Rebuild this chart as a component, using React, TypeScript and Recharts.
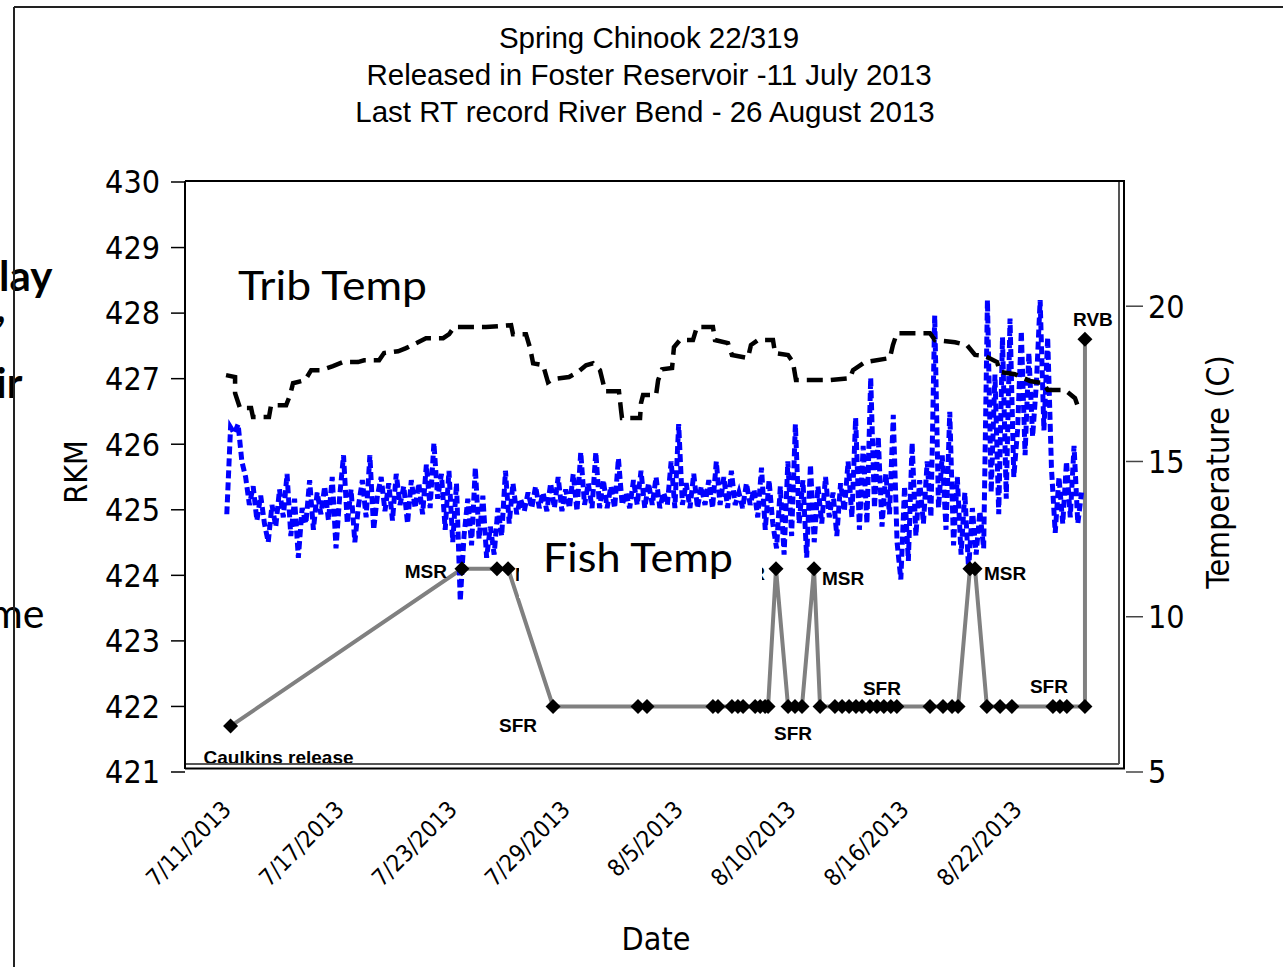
import React from 'react';
import { ComposedChart, Line, XAxis, YAxis } from 'recharts';

// ---------- layout constants ----------
const W = 1283;
const H = 967;
const PLOT_L = 185;
const PLOT_R = 1126;
const PLOT_T = 182;
const PLOT_B = 772;
const Y_AXIS_W = 60;
const X_AXIS_H = 60;

// ---------- data ----------
// x values are days since 11 July 2013
const X_MIN = -2.42;
const X_MAX = 47.56;
const dateTickDays = [0, 6, 12, 18, 24, 30, 36, 42];
const dateTickLabels = ['7/11/2013', '7/17/2013', '7/23/2013', '7/29/2013', '8/5/2013', '8/10/2013', '8/16/2013', '8/22/2013'];
const rkmTicks = [421, 422, 423, 424, 425, 426, 427, 428, 429, 430];
const tempTicks = [5, 10, 15, 20];

// Trib Temp (black dashed)
const tribDays = [
  -0.24, 0.24, 0.24, 0.5, 1.09, 1.19, 2.04, 2.15, 2.95, 3.16, 3.32, 3.96, 4.28, 4.81, 5.44, 5.97, 6.77, 7.09, 7.89,
  8.15, 8.9, 9.32, 9.96, 10.38, 11.29, 11.61, 11.87, 13.57, 14.9, 15.0, 15.69, 15.91, 16.07, 16.6, 16.86, 17.13,
  17.98, 18.45, 18.88, 19.25, 19.62, 19.78, 19.89, 20.63, 20.74, 20.79, 21.75, 21.8, 21.91, 22.6, 22.71, 22.92,
  23.45, 23.55, 23.87, 24.56, 24.77, 25.62, 25.73, 26.42, 26.63, 27.48, 27.64, 28.01, 28.81, 28.92, 29.61, 29.87,
  30.03, 31.84, 32.9, 33.06, 33.7, 35.02, 35.18, 35.39, 37.15, 37.41, 38.48, 39.11, 39.54, 40.07, 40.71, 40.87,
  41.66, 42.46, 43.15, 43.41, 44.32, 44.85, 45.11,
];
const tribTemps = [
  17.78, 17.72, 17.2, 16.72, 16.72, 16.43, 16.43, 16.81, 16.81, 17.14, 17.52, 17.62, 17.94, 17.94, 18.07, 18.2, 18.2,
  18.26, 18.26, 18.49, 18.55, 18.65, 18.84, 18.97, 18.97, 19.1, 19.33, 19.33, 19.39, 19.1, 19.1, 18.65, 18.16, 18.1,
  17.55, 17.65, 17.72, 17.88, 18.1, 18.16, 17.94, 17.55, 17.26, 17.26, 16.65, 16.4, 16.4, 16.88, 17.14, 17.14, 17.62,
  17.97, 18.01, 18.68, 18.91, 18.91, 19.33, 19.33, 18.91, 18.81, 18.43, 18.33, 18.75, 18.91, 18.91, 18.49, 18.43,
  18.2, 17.62, 17.62, 17.68, 17.94, 18.2, 18.33, 18.75, 19.13, 19.13, 18.91, 18.84, 18.75, 18.43, 18.4, 18.2, 17.88,
  17.81, 17.59, 17.52, 17.3, 17.3, 17.04, 16.59,
];

// Fish Temp (blue dashed), readings every 0.2 day starting at day -0.2
const FISH_START_DAY = -0.2;
const FISH_STEP_DAYS = 0.2;
const fishTemps = [
  13.3,
  16.1, 15.9, 16.2, 15.0, 14.5, 13.6, 14.2, 13.1, 13.9, 13.0,
  12.4, 13.6, 12.9, 14.1, 13.2, 14.6, 12.6, 13.8, 11.9, 13.5,
  13.0, 14.4, 12.8, 14.0, 13.3, 14.2, 13.1, 14.5, 12.2, 13.9,
  15.2, 13.0, 14.1, 12.4, 13.6, 14.4, 13.2, 15.2, 12.8, 13.9,
  14.5, 13.4, 14.3, 13.1, 14.6, 13.6, 14.2, 13.0, 14.4, 13.5,
  14.3, 13.3, 14.9, 13.5, 15.6, 13.8, 14.6, 12.8, 14.7, 12.4,
  14.3, 10.5, 12.6, 13.8, 12.3, 14.8, 12.5, 13.9, 11.9, 12.9,
  12.0, 13.5, 12.6, 14.7, 13.0, 14.3, 13.3, 13.8, 13.4, 14.0,
  13.5, 14.2, 13.5, 14.0, 13.4, 14.3, 13.5, 14.5, 13.4, 14.1,
  13.5, 14.6, 13.4, 15.3, 13.6, 14.3, 13.5, 15.3, 13.5, 14.4,
  13.5, 14.2, 13.5, 15.1, 13.6, 14.0, 13.5, 14.4, 13.6, 14.7,
  13.5, 14.3, 13.6, 14.5, 13.5, 14.0, 13.6, 15.0, 13.5, 16.2,
  13.6, 14.3, 13.5, 14.6, 13.5, 14.2, 13.6, 14.4, 13.5, 15.0,
  13.6, 14.5, 13.5, 14.7, 13.6, 14.0, 13.5, 14.3, 13.6, 14.1,
  13.2, 14.8, 12.8, 14.4, 13.0, 12.2, 14.2, 12.0, 15.0, 12.6,
  16.2, 13.0, 14.4, 11.9, 14.9, 12.4, 14.2, 13.0, 14.5, 13.2,
  14.0, 12.6, 14.3, 13.4, 15.0, 13.2, 16.4, 12.8, 15.5, 13.0,
  17.7, 13.5, 15.8, 12.9, 14.6, 13.3, 16.5, 12.4, 11.2, 14.2,
  11.8, 15.6, 12.6, 14.4, 13.0, 15.0, 13.2, 19.7, 13.5, 15.2,
  12.8, 16.6, 12.3, 14.5, 12.0, 14.0, 11.5, 13.5, 12.0, 13.4,
  12.2, 20.2, 14.0, 17.8, 13.3, 19.0, 13.8, 19.6, 14.5, 16.0,
  19.2, 15.2, 18.5, 15.8, 17.5, 20.2, 16.0, 19.0, 14.8, 12.7,
  14.5, 13.0, 15.0, 13.2, 15.5, 13.0, 14.0,
];

// RKM detections (grey line with diamonds)
const rkmDays = [
  0, 12.29, 14.15, 14.74, 17.13, 21.64, 22.12, 25.62, 25.89, 26.63, 26.95, 27.22, 27.86, 28.13, 28.39, 28.55,
  28.97, 29.61, 29.98, 30.35, 30.99, 31.31, 32.1, 32.48, 32.85, 33.22, 33.54, 33.96, 34.33, 34.7, 35.07, 35.39,
  37.15, 37.84, 38.32, 38.64, 39.27, 39.54, 40.17, 40.87, 41.5, 43.68, 44.05, 44.42, 45.38, 45.38,
];
const rkmValues = [
  421.7, 424.1, 424.1, 424.1, 422.0, 422.0, 422.0, 422.0, 422.0, 422.0, 422.0, 422.0, 422.0, 422.0, 422.0, 422.0,
  424.1, 422.0, 422.0, 422.0, 424.1, 422.0, 422.0, 422.0, 422.0, 422.0, 422.0, 422.0, 422.0, 422.0, 422.0, 422.0,
  422.0, 422.0, 422.0, 422.0, 424.1, 424.1, 422.0, 422.0, 422.0, 422.0, 422.0, 422.0, 422.0, 427.6,
];
const rkmLabels: Record<number, string> = {
  0: 'Caulkins release',
  1: 'MSR',
  3: 'MSR',
  4: 'SFR',
  16: 'MSR',
  18: 'SFR',
  20: 'MSR',
  29: 'SFR',
  37: 'MSR',
  41: 'SFR',
  45: 'RVB',
};

// ---------- derived tables ----------
const tribData = tribDays.map((d, i) => ({ d, t: tribTemps[i] }));
const fishData = fishTemps.map((t, i) => ({ d: +(FISH_START_DAY + i * FISH_STEP_DAYS).toFixed(2), t }));
const rkmData = rkmDays.map((d, i) => ({ d, r: rkmValues[i], label: rkmLabels[i] ?? '' }));

// ---------- styles ----------
const TICK_FONT = "'DejaVu Sans Condensed', 'DejaVu Sans', sans-serif";
const ARIAL = "'Liberation Sans', Arial, sans-serif";
const CALIBRI = "Lato, 'Open Sans', sans-serif";

const labelPlacement: Record<number, { dx: number; dy: number; anchor: 'start' | 'middle' | 'end' }> = {
  0: { dx: -27, dy: 38, anchor: 'start' },
  1: { dx: -15, dy: 9, anchor: 'end' },
  3: { dx: 7, dy: 12, anchor: 'start' },
  4: { dx: -35, dy: 26, anchor: 'middle' },
  16: { dx: -11, dy: 11, anchor: 'end' },
  18: { dx: -2, dy: 34, anchor: 'middle' },
  20: { dx: 8, dy: 16, anchor: 'start' },
  29: { dx: -2, dy: -11, anchor: 'middle' },
  37: { dx: 9, dy: 11, anchor: 'start' },
  41: { dx: -4, dy: -13, anchor: 'middle' },
  45: { dx: 8, dy: -13, anchor: 'middle' },
};

const DiamondDot = (props: any) => {
  const { cx, cy, index, payload } = props;
  if (cx == null || cy == null) return null;
  const s = 7.5;
  const place = labelPlacement[index];
  return (
    <g key={`dot-${index}`}>
      <polygon points={`${cx},${cy - s} ${cx + s},${cy} ${cx},${cy + s} ${cx - s},${cy}`} fill="#000" />
      {payload && payload.label && place ? (
        <text
          x={cx + place.dx}
          y={cy + place.dy}
          textAnchor={place.anchor}
          fontFamily={ARIAL}
          fontWeight="bold"
          fontSize={19}
          fill="#000"
        >
          {payload.label}
        </text>
      ) : null}
    </g>
  );
};

const DateTick = (props: any) => {
  const { x, payload } = props;
  const idx = dateTickDays.indexOf(payload.value);
  const label = idx >= 0 ? dateTickLabels[idx] : '';
  const tx = x + 2;
  const ty = PLOT_B + 39;
  return (
    <text
      x={tx}
      y={ty}
      transform={`rotate(-45, ${tx}, ${ty})`}
      textAnchor="end"
      fontFamily={TICK_FONT}
      fontSize={23.5}
      fill="#000"
    >
      {label}
    </text>
  );
};

export default function App() {
  return (
    <div style={{ position: 'absolute', left: 0, top: 0, width: W, height: H, overflow: 'hidden', background: '#fff' }}>
      {/* slide fragments behind the chart */}
      <svg width={W} height={H} style={{ position: 'absolute', left: 0, top: 0 }}>
        <text x={-1} y={291} fontFamily={CALIBRI} fontWeight="bold" fontSize={42} fill="#000">lay</text>
        <text x={-4} y={322} fontFamily={CALIBRI} fontWeight="bold" fontSize={41} fill="#000">,</text>
        <text x={-4} y={398} fontFamily={CALIBRI} fontWeight="bold" fontSize={42} fill="#000">ir</text>
        <text x={-11} y={628} fontFamily={CALIBRI} fontSize={41} fill="#000">me</text>
      </svg>
      <div style={{ position: 'absolute', left: 0, top: 0 }}>
        <ComposedChart
          width={W}
          height={H}
          margin={{ top: PLOT_T, bottom: H - PLOT_B - X_AXIS_H, left: PLOT_L - Y_AXIS_W, right: W - PLOT_R - Y_AXIS_W }}
        >
          <XAxis
            dataKey="d"
            type="number"
            domain={[X_MIN, X_MAX]}
            ticks={dateTickDays}
            interval={0}
            allowDataOverflow
            axisLine={false}
            tickLine={false}
            height={X_AXIS_H}
            tick={<DateTick />}
          />
          <YAxis
            yAxisId="rkm"
            orientation="left"
            type="number"
            domain={[421, 430]}
            ticks={rkmTicks}
            interval={0}
            allowDataOverflow
            width={Y_AXIS_W}
            axisLine={false}
            tickLine={{ stroke: '#000', strokeWidth: 1.5 }}
            tickSize={14}
            tickMargin={11}
            tick={{ fontFamily: TICK_FONT, fontSize: 32, fill: '#000' }}
          />
          <YAxis
            yAxisId="temp"
            orientation="right"
            type="number"
            domain={[5, 24]}
            ticks={tempTicks}
            interval={0}
            allowDataOverflow
            width={Y_AXIS_W}
            axisLine={false}
            tickLine={{ stroke: '#444', strokeWidth: 1.5 }}
            tickSize={17}
            tickMargin={5}
            tick={{ fontFamily: TICK_FONT, fontSize: 32, fill: '#000' }}
          />
          <Line
            yAxisId="rkm"
            data={rkmData}
            dataKey="r"
            type="linear"
            stroke="#808080"
            strokeWidth={4}
            dot={(p: any) => <DiamondDot key={`d${p.index}`} {...p} />}
            activeDot={false}
            isAnimationActive={false}
          />
          <Line
            yAxisId="temp"
            data={fishData}
            dataKey="t"
            type="linear"
            stroke="#0000FF"
            strokeWidth={5}
            strokeDasharray="8 4"
            dot={false}
            activeDot={false}
            isAnimationActive={false}
          />
          <Line
            yAxisId="temp"
            data={tribData}
            dataKey="t"
            type="linear"
            stroke="#000"
            strokeWidth={4.5}
            strokeDasharray="16 8"
            dot={false}
            activeDot={false}
            isAnimationActive={false}
          />
        </ComposedChart>
      </div>
      {/* overlay: frame, annotations, titles */}
      <svg width={W} height={H} style={{ position: 'absolute', left: 0, top: 0, pointerEvents: 'none' }}>
        {/* slide frame */}
        <line x1={14} y1={7} x2={14} y2={H} stroke="#222" strokeWidth={2} />
        <line x1={14} y1={7} x2={W} y2={7} stroke="#222" strokeWidth={2} />
        {/* plot frame */}
        <line x1={PLOT_L} y1={181} x2={1125} y2={181} stroke="#000" strokeWidth={2} />
        <line x1={PLOT_L} y1={181} x2={PLOT_L} y2={769} stroke="#000" strokeWidth={2} />
        <line x1={1119} y1={182} x2={1119} y2={764} stroke="#555" strokeWidth={2} />
        <line x1={186} y1={764} x2={1119} y2={764} stroke="#555" strokeWidth={2} />
        <line x1={1124} y1={181} x2={1124} y2={769} stroke="#000" strokeWidth={2} />
        <line x1={PLOT_L} y1={768.5} x2={1125} y2={768.5} stroke="#000" strokeWidth={2} />
        {/* Fish Temp box */}
        <rect x={519} y={518} width={243} height={80} fill="#fff" />
        <text x={543} y={572} fontFamily={CALIBRI} fontSize={41} fill="#000" textLength={190} lengthAdjust="spacingAndGlyphs">Fish Temp</text>
        <text x={238} y={300} fontFamily={CALIBRI} fontSize={41} fill="#000" textLength={189} lengthAdjust="spacingAndGlyphs">Trib Temp</text>
        {/* titles */}
        <text x={649} y={48} textAnchor="middle" fontFamily={ARIAL} fontSize={29.5} fill="#000">Spring Chinook 22/319</text>
        <text x={649} y={85} textAnchor="middle" fontFamily={ARIAL} fontSize={29.5} fill="#000">Released in Foster Reservoir -11 July 2013</text>
        <text x={645} y={122} textAnchor="middle" fontFamily={ARIAL} fontSize={29.5} fill="#000">Last RT record River Bend - 26 August 2013</text>
        {/* axis titles */}
        <text x={87} y={472} transform="rotate(-90, 87, 472)" textAnchor="middle" fontFamily={TICK_FONT} fontSize={32} fill="#000">RKM</text>
        <text x={1229} y={472} transform="rotate(-90, 1229, 472)" textAnchor="middle" fontFamily={TICK_FONT} fontSize={32} fill="#000">Temperature (C)</text>
        <text x={656} y={950} textAnchor="middle" fontFamily={TICK_FONT} fontSize={32} fill="#000">Date</text>
      </svg>
    </div>
  );
}
